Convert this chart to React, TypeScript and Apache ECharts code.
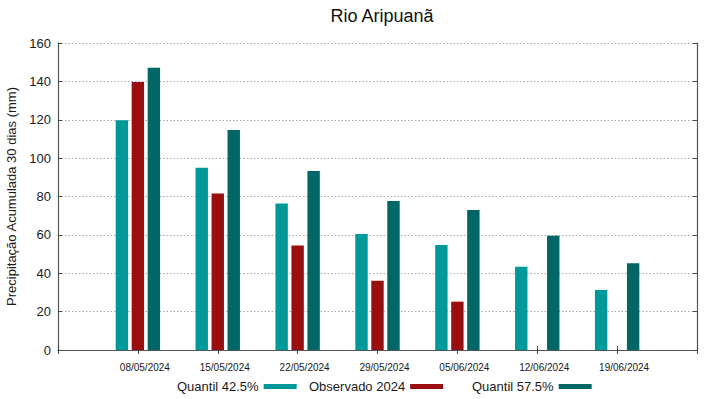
import React, { useEffect, useRef } from "react";
import * as echarts from "echarts";

const dates = ["08/05/2024", "15/05/2024", "22/05/2024", "29/05/2024", "05/06/2024", "12/06/2024", "19/06/2024"];
const quantil425 = [119.7, 95.0, 76.4, 60.4, 54.7, 43.4, 31.3];
const observado2024 = [139.7, 81.6, 54.4, 36.1, 25.2, null, null];
const quantil575 = [147.1, 114.6, 93.3, 77.6, 73.0, 59.6, 45.2];
const yTicks = { min: 0, max: 160, interval: 20 };

const FONT = "'Liberation Sans', Arial, sans-serif";
const C1 = "#009999";
const C2 = "#990f0f";
const C3 = "#006666";

export default function App() {
  const ref = useRef<HTMLDivElement>(null);
  useEffect(() => {
    if (!ref.current) return;
    const chart = echarts.init(ref.current, undefined, { renderer: "svg" });
    const cats = ["", ...dates, ""];
    const pad = (arr: (number | null)[]) => [null, ...arr, null];
    const tickStyle = { show: true, inside: true, length: 4, lineStyle: { color: "#444", width: 1 } };
    const axisLine = { show: true, lineStyle: { color: "#555", width: 1.2 } };
    const legendBase = {
      top: 380,
      padding: 0,
      align: "right" as const,
      itemWidth: 33,
      itemHeight: 5,
      icon: "rect",
      textStyle: { fontFamily: FONT, fontSize: 13, color: "#1a1a1a" },
      selectedMode: false,
    };
    chart.setOption({
      animation: false,
      textStyle: { fontFamily: FONT },
      title: {
        text: "Rio Aripuanã",
        left: 377,
        top: 2,
        textAlign: "center",
        textStyle: { fontFamily: FONT, fontSize: 18, fontWeight: "normal", color: "#111" },
      },
      legend: [
        { ...legendBase, left: 177, data: ["Quantil 42.5%"] },
        { ...legendBase, left: 309, data: ["Observado 2024"] },
        { ...legendBase, left: 472, data: ["Quantil 57.5%"] },
      ],
      grid: { left: 58, right: 22, top: 43, bottom: 49, show: false, containLabel: false, outerBoundsMode: "none" },
      xAxis: [
        {
          type: "category",
          data: cats,
          boundaryGap: false,
          position: "bottom",
          axisLine,
          axisTick: tickStyle,
          axisLabel: {
            fontFamily: FONT,
            fontSize: 10,
            color: "#1a1a1a",
            margin: 12,
            padding: [0, 0, 0, 14],
            interval: 0,
          },
          splitLine: { show: false },
        },
        {
          type: "category",
          data: cats,
          boundaryGap: false,
          position: "top",
          axisLine,
          axisTick: tickStyle,
          axisLabel: { show: false },
          splitLine: { show: false },
        },
      ],
      yAxis: [
        {
          type: "value",
          min: yTicks.min,
          max: yTicks.max,
          interval: yTicks.interval,
          position: "left",
          name: "Precipitação Acumulada 30 dias (mm)",
          nameLocation: "middle",
          nameRotate: 90,
          nameGap: 36,
          nameTextStyle: { fontFamily: FONT, fontSize: 13, color: "#1a1a1a" },
          axisLine,
          axisTick: tickStyle,
          axisLabel: { fontFamily: FONT, fontSize: 13, color: "#1a1a1a", margin: 7 },
          splitLine: { show: true, lineStyle: { color: "#a8a8a8", type: [1.5, 2], width: 1 } },
        },
        {
          type: "value",
          min: yTicks.min,
          max: yTicks.max,
          interval: yTicks.interval,
          position: "right",
          axisLine,
          axisTick: tickStyle,
          axisLabel: { show: false },
          splitLine: { show: false },
        },
      ],
      series: [
        {
          name: "Quantil 42.5%",
          type: "bar",
          data: pad(quantil425),
          barWidth: 12.4,
          barGap: "29%",
          itemStyle: { color: C1 },
        },
        {
          name: "Observado 2024",
          type: "bar",
          data: pad(observado2024),
          barWidth: 12.4,
          barGap: "29%",
          itemStyle: { color: C2 },
        },
        {
          name: "Quantil 57.5%",
          type: "bar",
          data: pad(quantil575),
          barWidth: 12.4,
          barGap: "29%",
          itemStyle: { color: C3 },
        },
      ],
    });
    return () => chart.dispose();
  }, []);
  return (
    <div
      ref={ref}
      style={{ position: "fixed", left: 0, top: 0, width: 719, height: 399, background: "#fff" }}
    />
  );
}
